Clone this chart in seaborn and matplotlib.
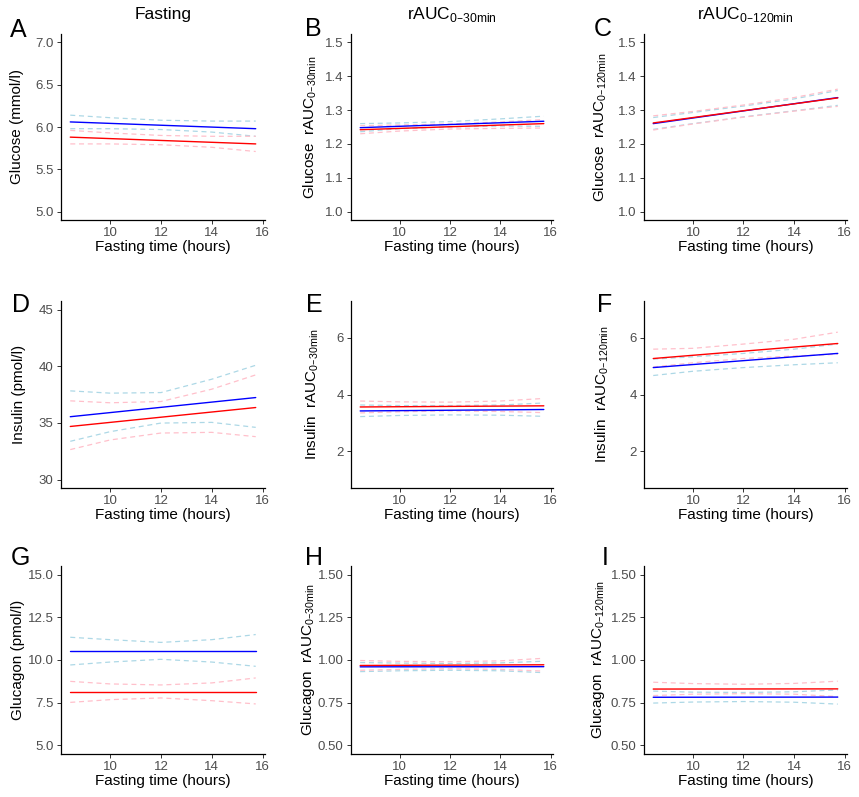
import matplotlib
matplotlib.use("Agg")
import matplotlib.pyplot as plt
import seaborn as sns
import numpy as np
import pandas as pd

# x positions of the fitted lines / confidence curves (hours)
x_fit = [8.43, 15.73]
x_ci = [8.43, 10, 12, 14, 15.73]

# values: fit line (2 ends) and CI curves (5 points)
glc_fast = dict(blue=[6.06, 5.98], blue_hi=[6.14, 6.11, 6.08, 6.07, 6.07], blue_lo=[5.98, 5.98, 5.97, 5.94, 5.89],
                red=[5.88, 5.80], red_hi=[5.96, 5.93, 5.90, 5.89, 5.89], red_lo=[5.80, 5.80, 5.79, 5.76, 5.71])
glc_30 = dict(blue=[1.248, 1.267], blue_hi=[1.260, 1.262, 1.266, 1.274, 1.282], blue_lo=[1.236, 1.245, 1.250, 1.253, 1.252],
              red=[1.242, 1.260], red_hi=[1.254, 1.256, 1.259, 1.265, 1.272], red_lo=[1.230, 1.238, 1.244, 1.246, 1.247])
glc_120 = dict(blue=[1.260, 1.337], blue_hi=[1.278, 1.293, 1.312, 1.333, 1.358], blue_lo=[1.243, 1.260, 1.280, 1.298, 1.314],
               red=[1.262, 1.336], red_hi=[1.283, 1.296, 1.315, 1.337, 1.362], red_lo=[1.241, 1.259, 1.279, 1.297, 1.311])
ins_fast = dict(blue=[35.54, 37.23], blue_hi=[37.82, 37.62, 37.67, 38.85, 40.08], blue_lo=[33.37, 34.22, 34.98, 35.04, 34.60],
                red=[34.68, 36.35], red_hi=[36.94, 36.77, 36.88, 37.97, 39.23], red_lo=[32.64, 33.49, 34.10, 34.16, 33.78])
ins_30 = dict(blue=[3.42, 3.47], blue_hi=[3.63, 3.61, 3.61, 3.63, 3.70], blue_lo=[3.22, 3.26, 3.28, 3.27, 3.23],
              red=[3.56, 3.60], red_hi=[3.77, 3.74, 3.73, 3.77, 3.86], red_lo=[3.35, 3.39, 3.42, 3.40, 3.36])
ins_120 = dict(blue=[4.95, 5.45], blue_hi=[5.25, 5.33, 5.45, 5.60, 5.78], blue_lo=[4.67, 4.82, 4.95, 5.05, 5.12],
               red=[5.27, 5.80], red_hi=[5.60, 5.63, 5.78, 5.95, 6.20], red_lo=[4.97, 5.12, 5.27, 5.36, 5.42])
gcg_fast = dict(blue=[10.51, 10.51], blue_hi=[11.33, 11.19, 11.03, 11.19, 11.49], blue_lo=[9.71, 9.88, 10.04, 9.88, 9.63],
                red=[8.11, 8.11], red_hi=[8.75, 8.60, 8.54, 8.66, 8.95], red_lo=[7.52, 7.68, 7.78, 7.62, 7.43])
gcg_30 = dict(blue=[0.960, 0.961], blue_hi=[0.985, 0.982, 0.980, 0.983, 0.993], blue_lo=[0.932, 0.937, 0.940, 0.937, 0.926],
              red=[0.968, 0.972], red_hi=[0.997, 0.992, 0.990, 0.995, 1.010], red_lo=[0.940, 0.945, 0.948, 0.945, 0.935])
gcg_120 = dict(blue=[0.782, 0.783], blue_hi=[0.818, 0.812, 0.810, 0.814, 0.825], blue_lo=[0.748, 0.754, 0.757, 0.753, 0.742],
               red=[0.830, 0.831], red_hi=[0.870, 0.862, 0.858, 0.863, 0.876], red_lo=[0.792, 0.800, 0.803, 0.800, 0.786])

col_titles = ["Fasting", "rAUC$_{\\mathregular{0\u201330min}}$", "rAUC$_{\\mathregular{0\u2013120min}}$"]
letters = ["A", "B", "C", "D", "E", "F", "G", "H", "I"]
sub30 = "  rAUC$_{\\mathregular{0\u201330min}}$"
sub120 = "  rAUC$_{\\mathregular{0\u2013120min}}$"
ylabels = ["Glucose (mmol/l)", "Glucose" + sub30, "Glucose" + sub120,
           "Insulin (pmol/l)", "Insulin" + sub30, "Insulin" + sub120,
           "Glucagon (pmol/l)", "Glucagon" + sub30, "Glucagon" + sub120]
yticks = [[5.0, 5.5, 6.0, 6.5, 7.0], [1.0, 1.1, 1.2, 1.3, 1.4, 1.5], [1.0, 1.1, 1.2, 1.3, 1.4, 1.5],
          [30, 35, 40, 45], [2, 4, 6], [2, 4, 6],
          [5.0, 7.5, 10.0, 12.5, 15.0], [0.50, 0.75, 1.00, 1.25, 1.50], [0.50, 0.75, 1.00, 1.25, 1.50]]
ylims = [(4.9, 7.1), (0.975, 1.525), (0.975, 1.525),
         (29.25, 45.75), (0.7, 7.3), (0.7, 7.3),
         (4.5, 15.5), (0.45, 1.55), (0.45, 1.55)]
yfmt = ["{:.1f}", "{:.1f}", "{:.1f}", "{:.0f}", "{:.0f}", "{:.0f}", "{:.1f}", "{:.2f}", "{:.2f}"]
panels = [glc_fast, glc_30, glc_120, ins_fast, ins_30, ins_120, gcg_fast, gcg_30, gcg_120]

sns.set_theme(style="ticks")
plt.rcParams["font.family"] = ["Liberation Sans", "DejaVu Sans"]
plt.rcParams["text.color"] = "black"
plt.rcParams["axes.labelcolor"] = "black"

W, H = 859, 797
fig = plt.figure(figsize=(W / 100, H / 100), dpi=100)

# layout in pixels
col_left = [61, 351, 644]
col_w = [204, 202, 203]
row_top = [34, 301, 566]
row_h = [186, 187, 188]
ylab_cx = [17, 310, 600, 19, 312, 602, 18, 308, 598]
letter_xy = [(10, 37), (305, 36), (594, 36), (12, 312), (306, 312), (597, 312), (11, 565), (305, 565), (602, 565)]

line_order = ["blue_hi", "blue_lo", "red_hi", "red_lo", "blue", "red"]
palette = {"blue_hi": "#ADD8E6", "blue_lo": "#ADD8E6", "red_hi": "#FFC0CB", "red_lo": "#FFC0CB",
           "blue": "#0000FF", "red": "#FF0000"}
dashes = {"blue_hi": (4, 3), "blue_lo": (4, 3), "red_hi": (4, 3), "red_lo": (4, 3), "blue": "", "red": ""}
sizes = {"blue_hi": 0.9, "blue_lo": 0.9, "red_hi": 0.9, "red_lo": 0.9, "blue": 1.0, "red": 1.0}

for i, d in enumerate(panels):
    r, c = divmod(i, 3)
    left, w = col_left[c], col_w[c]
    top, h = row_top[r], row_h[r]
    ax = fig.add_axes([left / W, 1 - (top + h) / H, w / W, h / H])

    rows = []
    for name in line_order:
        xs = x_fit if name in ("blue", "red") else x_ci
        for x, v in zip(xs, d[name]):
            rows.append({"time": x, "value": v, "line": name})
    df = pd.DataFrame(rows)
    sns.lineplot(data=df, x="time", y="value", hue="line", style="line", size="line",
                 hue_order=line_order, style_order=line_order, size_order=line_order,
                 palette=palette, dashes=dashes, sizes=sizes,
                 estimator=None, legend=False, ax=ax)

    ax.set_xlim(8.065, 16.095)
    ax.set_xticks([10, 12, 14, 16])
    ax.set_ylim(*ylims[i])
    ax.set_yticks(yticks[i])
    ax.set_yticklabels([yfmt[i].format(t) for t in yticks[i]])
    sns.despine(ax=ax)
    for s in ("left", "bottom"):
        ax.spines[s].set_color("black")
        ax.spines[s].set_linewidth(0.9)
    ax.tick_params(length=2.8, width=0.7, color="#333333", labelcolor="#4D4D4D",
                   labelsize=9.5, pad=2.5)

    ax.set_xlabel("Fasting time (hours)", fontsize=11, color="black")
    ax.xaxis.set_label_coords(0.5, -27 / h)
    ax.xaxis.label.set_verticalalignment("center")
    ax.set_ylabel(ylabels[i], fontsize=11, color="black")
    ax.yaxis.set_label_coords((ylab_cx[i] - left) / w, 0.5)
    ax.yaxis.label.set_verticalalignment("center")

    if r == 0:
        ax.set_title(col_titles[c], fontsize=12.5, pad=11, color="black")

    lx, ly = letter_xy[i]
    fig.text(lx / W, 1 - ly / H, letters[i], fontsize=18, ha="left", va="baseline", color="black")

fig.savefig("out.png", dpi=100)
